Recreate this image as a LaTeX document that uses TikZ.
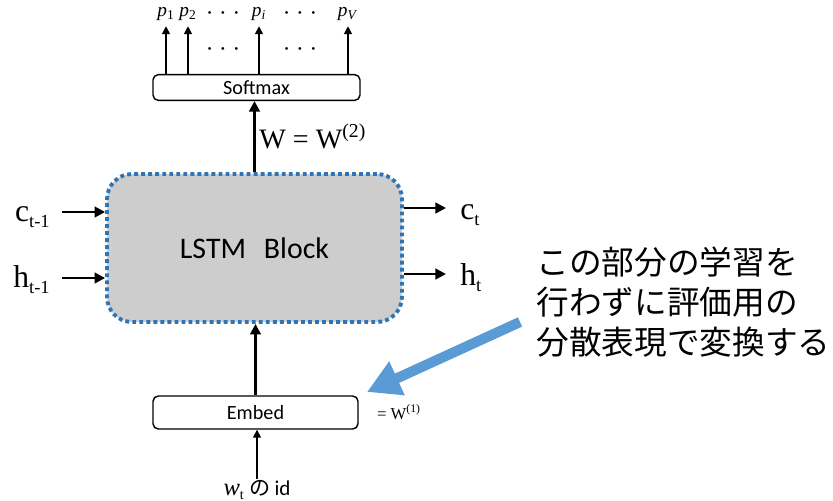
\documentclass[tikz,border=0pt]{standalone}
\usepackage{fontspec}
\setmainfont{Liberation Serif}
\setsansfont{Carlito}
\newfontfamily\jpfont{Noto Sans CJK JP}
\usetikzlibrary{calc,positioning,arrows.meta}
\definecolor{blockblue}{RGB}{46,117,182}
\definecolor{noteblue}{RGB}{91,155,213}
\definecolor{blockgray}{RGB}{205,205,205}
\newcommand{\lowsub}[1]{\raisebox{-3.5pt}{\fontsize{10.5}{12}\selectfont #1}}
\newcommand{\cdotrow}{\textperiodcentered\hspace{0.25em}\textperiodcentered\hspace{0.25em}\textperiodcentered}

\begin{document}
\begin{tikzpicture}[x=0.02cm, y=-0.02cm,
	layer/.style={draw, line width=0.8pt, rounded corners=3pt, font=\sffamily\fontsize{11.5}{13}\selectfont},
	flow/.style={-{Triangle[length=6pt,width=6pt]}, line width=1.6pt},
	outarrow/.style={-{Triangle[length=4.5pt,width=4.5pt]}, line width=1pt},
	vec/.style={font=\fontsize{18}{20}\selectfont, inner sep=0pt},
	prob/.style={font=\fontsize{11}{12}\selectfont, inner sep=1pt},
	dots/.style={font=\fontsize{13}{14}\selectfont, inner sep=0pt, anchor=base}]
		\useasboundingbox (0,0) rectangle (833,501);
		\node[layer, minimum width=4.14cm, minimum height=0.42cm] at (256.5,87.5) (sm) {Softmax};
		\foreach \x/\nm/\lab in {166/p1/1, 188/p2/2, 259/pi/\textit{i}, 348/pv/\textit{V}}{
			\node[prob] at (\x,14) (\nm) {\textit{p}\textsubscript{\lab}};
			\draw[outarrow] (\nm |- sm.north) -- ([yshift=-2pt]\nm.south);
		}
		\node[dots] at (223,20) (dt1) {\cdotrow};
		\node[dots] at (300,20) (dt2) {\cdotrow};
		\node[dots] at (223,56) (dm1) {\cdotrow};
		\node[dots] at (300,56) (dm2) {\cdotrow};
		\node[draw=blockblue, fill=blockgray, line width=2.2pt, dash pattern=on 2.2pt off 1.8pt, rounded corners=0.5cm,
			minimum width=5.9cm, minimum height=2.96cm, font=\sffamily\fontsize{17}{20}\selectfont] at (254.5,248) (lstm) {LSTM\hspace{0.6em}Block};
		\draw[flow] (lstm.north) -- node[right, inner sep=2pt, font=\fontsize{16}{18}\selectfont] (wtwo) {W = W\textsuperscript{(2)}} (lstm.north |- sm.south);
		\node[vec, anchor=mid east] at (50,217) (cprev) {c\lowsub{t-1}};
		\node[vec, anchor=mid east] at (50,283) (hprev) {h\lowsub{t-1}};
		\node[vec, anchor=mid west] at (460,215) (cnext) {c\lowsub{t}};
		\node[vec, anchor=mid west] at (460,281) (hnext) {h\lowsub{t}};
		\foreach \nm in {cprev,hprev}{
			\draw[flow] ($(\nm.mid east)+(12,-5)$) -- ($(\nm.mid east -| lstm.west)+(0,-5)$);
		}
		\foreach \nm in {cnext,hnext}{
			\draw[flow] ($(\nm.mid west -| lstm.east)+(0,-7)$) -- ($(\nm.mid west)+(-14,-7)$);
		}
		\node[layer, minimum width=4.1cm, minimum height=0.66cm] at (255.5,412.5) (emb) {Embed};
		\draw[flow] (emb.north) -- (emb.north |- lstm.south);
		\node[font=\fontsize{9.5}{10}\selectfont] at (399,412) (wone) {= W\textsuperscript{(1)}};
		\node[font=\fontsize{12}{14}\selectfont, inner sep=1pt] at (257,490) (wid) {{\fontsize{14}{14}\selectfont\textit{w}}\textsubscript{t}\ {\jpfont の}\,\textsf{id}};
		\draw[outarrow, line width=0.9pt] (wid.north) -- (wid.north |- emb.south);
		\node[anchor=west, align=left, inner sep=0pt, font=\jpfont\fontsize{18.6}{22.7}\selectfont] at (536,302) (note)
			{この部分の学習を\\行わずに評価用の\\分散表現で変換する};
		\coordinate (tail) at (520,322);
		\coordinate (tip) at (367,392);
		\draw[noteblue, line width=5.8pt, -{Triangle[length=0.66cm,width=0.7cm]}] (tail) -- (tip);
\end{tikzpicture}
\end{document}
